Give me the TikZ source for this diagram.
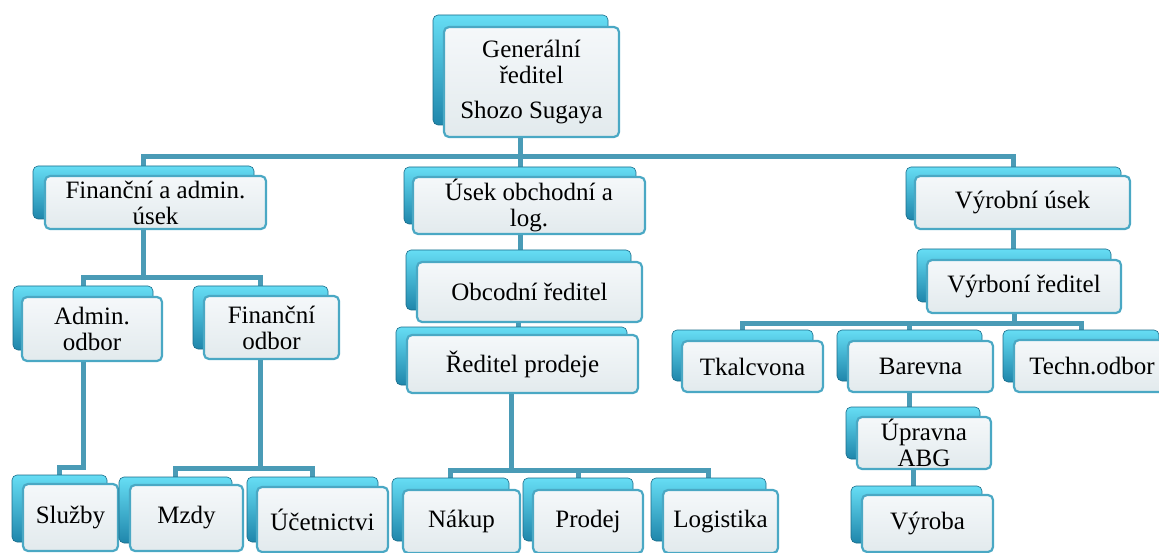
\documentclass[tikz,border=0pt]{standalone}
\usepackage{fontspec}
\setmainfont{LiberationSerif}[Extension=.ttf, UprightFont=*-Regular, BoldFont=*-Bold, ItalicFont=*-Italic]
\usetikzlibrary{backgrounds}
\definecolor{conncol}{HTML}{4A9BB6}
\definecolor{framecol}{HTML}{4AA8C4}
\definecolor{backtop}{HTML}{66DDF4}
\definecolor{backbot}{HTML}{1F86AB}
\definecolor{fronttop}{HTML}{F5F8FA}
\definecolor{frontbot}{HTML}{E2EAED}
\tikzset{
  backbox/.style={rectangle, rounded corners=5pt, top color=backtop, bottom color=backbot, draw=backbot!80!black, line width=0.6pt, inner sep=0pt},
  frontbox/.style={rectangle, rounded corners=5pt, top color=fronttop, bottom color=frontbot, draw=framecol, line width=2.2pt, inner sep=0pt, align=center, font=\rmfamily\fontsize{25}{26}\selectfont},
  conn/.style={draw=conncol, line width=5pt, line join=miter}
}
\newcommand\obox[8]{%
  \node[backbox, minimum width={(#4-#2)*1pt}, minimum height={(#5-#3)*1pt}]
    (#1-b) at ({(#2+#4)/2+#6},{(#3+#5)/2+#7}) {};
  \node[frontbox, minimum width={(#4-#2)*1pt}, minimum height={(#5-#3)*1pt}]
    (#1) at ({(#2+#4)/2},{(#3+#5)/2}) {#8};
}
\begin{document}
\begin{tikzpicture}[x=1pt,y=-1pt]
\useasboundingbox (0,0) rectangle (1159,553);
\coordinate (b1) at (0,157);
\coordinate (b2) at (0,278);
\coordinate (b3) at (0,323);
\coordinate (b4) at (0,467);
\coordinate (b5) at (0,468);
\coordinate (b6) at (0,470);

\obox{gd}{444}{27}{619}{137}{-11}{-12}{Generální\\ředitel\\[9pt]Shozo Sugaya}
\obox{fin}{45}{176}{266}{229}{-12}{-10}{Finanční a admin.\\úsek}
\obox{obch}{413}{177}{645}{234}{-9}{-10}{Úsek obchodní a\\log.}
\obox{vyr}{915}{176}{1130}{229}{-9}{-9}{Výrobní úsek}
\obox{adm}{22}{297}{162}{361}{-9}{-11}{Admin.\\odbor}
\obox{fo}{204}{296}{339}{359}{-11}{-10}{Finanční\\odbor}
\obox{sluz}{23}{484}{118}{551}{-11}{-9}{Služby}
\obox{mzdy}{130}{485}{243}{551}{-11}{-8}{Mzdy}
\obox{ucet}{257}{487}{388}{552}{-10}{-10}{Účetnictvi}
\obox{obr}{417}{262}{642}{322}{-11}{-12}{Obcodní ředitel}
\obox{rp}{407}{335}{638}{393}{-11}{-8}{Ředitel prodeje}
\obox{nak}{403}{490}{520}{553}{-11}{-12}{Nákup}
\obox{prod}{533}{490}{643}{553}{-10}{-12}{Prodej}
\obox{log}{663}{490}{778}{553}{-12}{-12}{Logistika}
\obox{vr}{927}{260}{1121}{313}{-10}{-11}{Výrboní ředitel}
\obox{tk}{682}{341}{823}{392}{-10}{-11}{Tkalcvona}
\obox{bar}{848}{341}{993}{392}{-11}{-11}{Barevna}
\obox{tech}{1014}{340}{1170}{392}{-11}{-10}{Techn.odbor}
\obox{upr}{857}{417}{991}{469}{-11}{-10}{Úpravna\\ABG}
\obox{vyroba}{862}{495}{993}{552}{-11}{-9}{Výroba}

\begin{pgfonlayer}{background}
  \draw[conn] (gd-b.center) -- (gd-b.center |- b1) -| (fin-b.north);
  \draw[conn] (gd-b.center |- b1) -| (vyr-b.north);
  \draw[conn] (gd-b.center |- b1) -| (obch-b.north);
  \draw[conn] (fin-b.center) -- (fin-b.center |- b2) -| (adm-b.north);
  \draw[conn] (fin-b.center |- b2) -| (fo-b.north);
  \draw[conn] (adm-b.center) -- (adm-b.center |- b4) -| (sluz-b.north);
  \draw[conn] (fo-b.center) -- (fo-b.center |- b5) -| (mzdy-b.north);
  \draw[conn] (fo-b.center |- b5) -| (ucet-b.north);
  \draw[conn] (obch-b.center) -- (obch-b.center |- obr-b.north);
  \draw[conn] (obr-b.center) -- (obr-b.center |- rp-b.north);
  \draw[conn] (rp-b.center) -- (rp-b.center |- b6) -| (nak-b.north);
  \draw[conn] (rp-b.center |- b6) -| (prod-b.north);
  \draw[conn] (rp-b.center |- b6) -| (log-b.north);
  \draw[conn] (vyr-b.center) -- (vyr-b.center |- vr-b.north);
  \draw[conn] (vr-b.center) -- (vr-b.center |- b3) -| (tk-b.north);
  \draw[conn] (vr-b.center |- b3) -| (bar-b.north);
  \draw[conn] (vr-b.center |- b3) -| (tech-b.north);
  \draw[conn] (bar-b.center) -- (bar-b.center |- upr-b.north);
  \draw[conn] (upr-b.center) -- (upr-b.center |- vyroba-b.north);
\end{pgfonlayer}
\end{tikzpicture}
\end{document}
